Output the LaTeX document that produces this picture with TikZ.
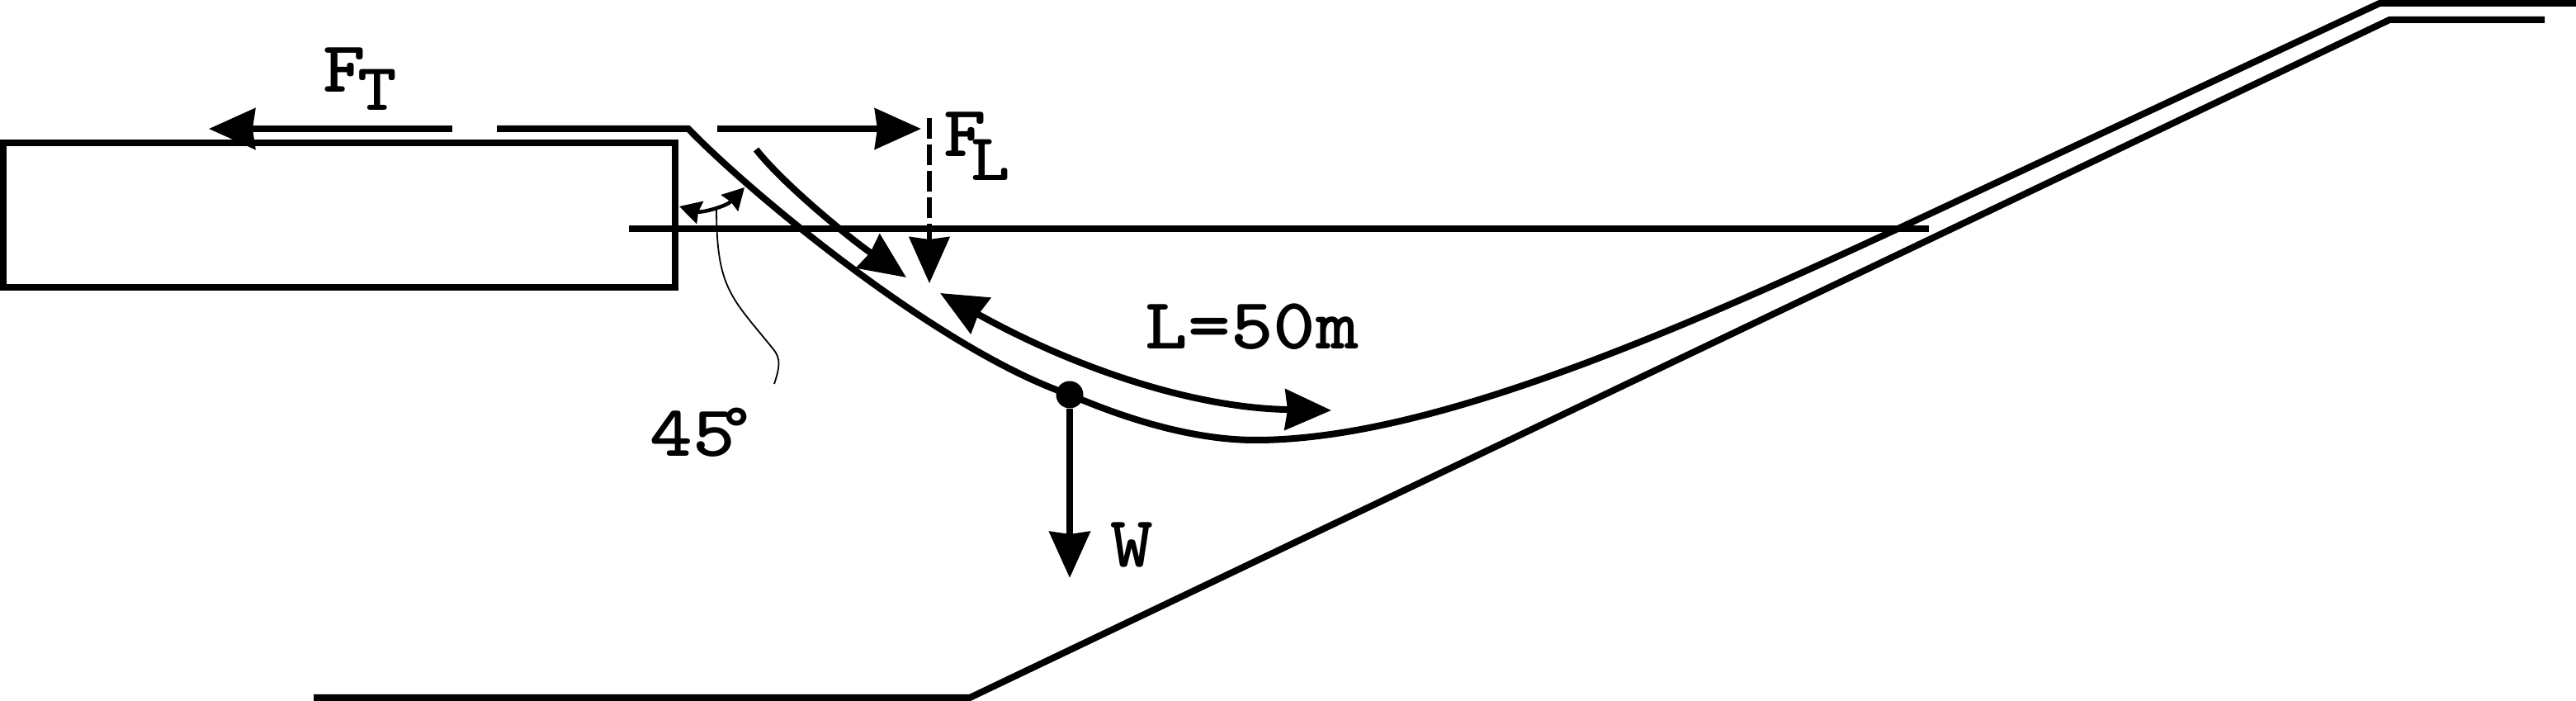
\documentclass[tikz,border=0pt]{standalone}
\usetikzlibrary{arrows.meta}
\newcommand{\wide}[1]{\scalebox{1.12}[1]{#1}}
\tikzset{
    line/.style={line width=0.08cm},
    bighead/.tip={Stealth[length=0.56cm,width=0.49cm,inset=0.03cm]},
    smallhead/.tip={Stealth[length=0.26cm,width=0.28cm,inset=0.02cm]},
    force/.style={line, -bighead},
    small/.style={line width=0.045cm, smallhead-smallhead},
    lbl/.style={anchor=base west, inner sep=0pt, font=\fontsize{25}{25}\selectfont\ttfamily\bfseries},
    sublbl/.style={anchor=base west, inner sep=0pt, font=\fontsize{23}{23}\selectfont\ttfamily\bfseries}
}
\begin{document}
\begin{tikzpicture}
        \useasboundingbox (0,0) rectangle (31.21,8.49);
        \node[draw, line, minimum width=8.14cm, minimum height=1.75cm, inner sep=0pt] (box) at (4.11,5.885) {};

        \coordinate (r1) at (5.48,6.93);
        \coordinate (r1end) at (2.53,6.93);
        \coordinate (r2) at (6.02,6.93);
        \coordinate (corner) at (8.34,6.93);
        \coordinate (mass) at (12.96,3.71);
        \coordinate (low) at (15.21,3.16);
        \coordinate (join) at (24.00,6.19);
        \coordinate (top1) at (28.83,8.45);
        \coordinate (top2) at (31.21,8.45);
        \draw[force] (r1) -- (r1end);
        \draw[line] (r2) -- (corner) .. controls (9.10,6.14) and (11.40,4.24) .. (mass)
            .. controls (13.70,3.39) and (14.50,3.16) .. (low)
            .. controls (17.50,3.16) and (20.80,4.69) .. (join) -- (top1) -- (top2);

        \coordinate (g1) at (3.80,0.04);
        \coordinate (g2) at (11.75,0.04);
        \coordinate (g3) at (28.95,8.25);
        \coordinate (g4) at (30.83,8.25);
        \draw[line] (g1) -- (g2) -- (g3) -- (g4);

        \coordinate (fl1) at (8.69,6.93);
        \coordinate (fl2) at (11.16,6.93);
        \draw[force] (fl1) -- (fl2);

        \coordinate (w1) at (7.62,5.72);
        \coordinate (w2) at (23.37,5.72);
        \draw[line] (w1) -- (w2);

        \coordinate (d1) at (11.26,7.06);
        \coordinate (d2) at (11.26,5.06);
        \draw[force, line width=0.055cm, dash pattern=on 0.25cm off 0.07cm] (d1) -- (d2);

        \coordinate (a1) at (9.16,6.68);
        \coordinate (a2) at (10.98,5.13);
        \draw[force] (a1) .. controls (9.50,6.25) and (10.30,5.60) .. (a2);

        \coordinate (l1) at (11.39,4.94);
        \coordinate (l2) at (16.13,3.52);
        \draw[line, bighead-bighead] (l1) .. controls (12.95,4.07) and (14.40,3.55) .. (l2);

        \coordinate (ang1) at (8.23,5.99);
        \coordinate (ang2) at (9.02,6.22);
        \draw[small] (ang1) .. controls (8.50,5.91) and (8.80,5.99) .. (ang2);

        \coordinate (pt) at (8.68,5.98);
        \coordinate (pe) at (9.38,3.84);
        \draw[line width=0.018cm] (pt) .. controls (8.68,5.00) and (8.85,4.90) .. (9.37,4.26)
            .. controls (9.46,4.15) and (9.45,4.05) .. (pe);

        \node[circle, fill=black, minimum size=0.33cm, inner sep=0pt] (dot) at (mass) {};
        \coordinate (wend) at (12.96,1.49);
        \draw[force] (dot) -- (wend);

        \node[lbl] (ft) at (3.91,7.37) {\wide{F}};
        \node[sublbl] (fts) at (4.33,7.15) {\wide{T}};
        \node[lbl] (fl) at (11.43,6.59) {\wide{F}};
        \node[sublbl] (fls) at (11.76,6.30) {\wide{L}};
        \node[lbl] (ll) at (13.87,4.26) {\wide{L=50m}};
        \node[lbl] (wt) at (13.45,1.62) {\wide{W}};
        \node[lbl] (ang) at (7.87,2.96) {\wide{45\kern-10pt\raisebox{-8pt}{\fontsize{40}{40}\selectfont °}}};
\end{tikzpicture}
\end{document}
